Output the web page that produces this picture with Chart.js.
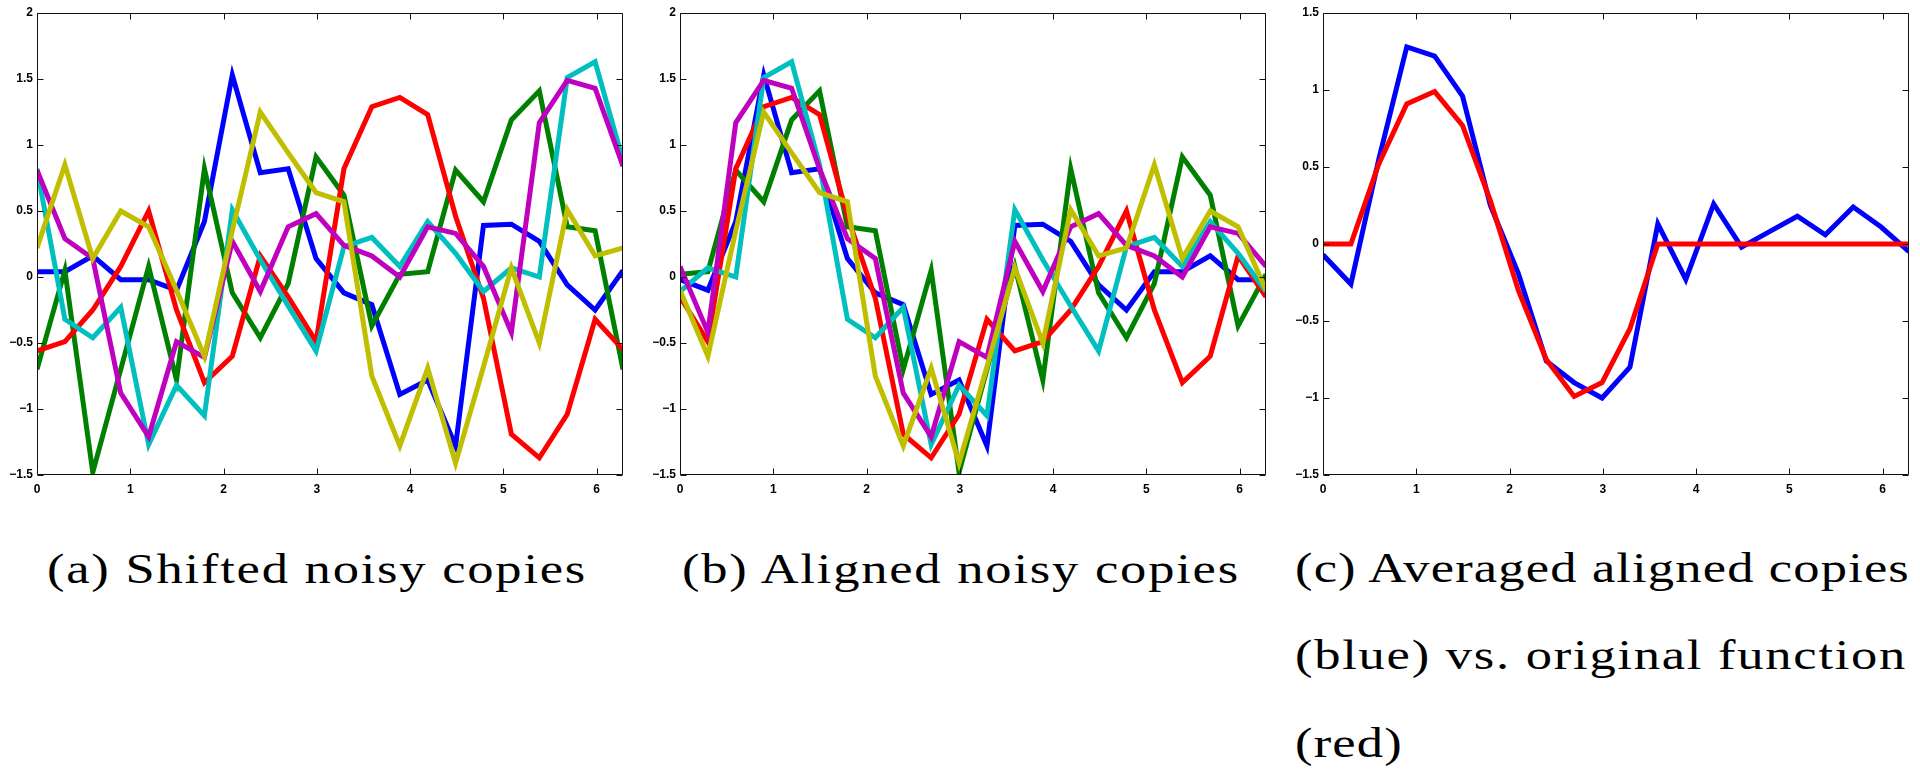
<!DOCTYPE html>
<html>
<head>
<meta charset="utf-8">
<script src="https://cdn.jsdelivr.net/npm/chart.js@4.4.1/dist/chart.umd.min.js"></script>
<style>
  body { margin: 0; background: #fff; width: 1920px; height: 778px; overflow: hidden; position: relative; }
  canvas { position: absolute; top: 0; }
  .cap { position: absolute; font-family: "Liberation Serif", "Times New Roman", serif; font-size: 42px; line-height: 42px;
         white-space: nowrap; color: #000; transform-origin: 0 0; }
</style>
</head>
<body>
<canvas id="chartA" width="628" height="505" style="left:1px"></canvas>
<canvas id="chartB" width="628" height="505" style="left:644px"></canvas>
<canvas id="chartC" width="628" height="505" style="left:1287px"></canvas>
<script>
// sample positions (0 .. 2*pi, 22 samples)
const xs = [0, 0.299, 0.598, 0.898, 1.197, 1.496, 1.795, 2.094, 2.394, 2.693, 2.992,
            3.291, 3.590, 3.890, 4.189, 4.488, 4.787, 5.086, 5.386, 5.685, 5.984, 6.283];
const xMax = 6.283;
const xTicks = [0, 1, 2, 3, 4, 5, 6];
const yTicksAB = [-1.5, -1, -0.5, 0, 0.5, 1, 1.5, 2];
const yTicksC = [-1.5, -1, -0.5, 0, 0.5, 1, 1.5];

// (a) shifted noisy copies
const blueA    = [0.04, 0.04, 0.16, -0.02, -0.02, -0.10, 0.42, 1.53, 0.79, 0.82, 0.14, -0.12, -0.21, -0.89, -0.78, -1.28, 0.39, 0.40, 0.27, -0.06, -0.25, 0.05];
const greenA   = [-0.70, 0.05, -1.48, -0.70, 0.08, -0.78, 0.82, -0.12, -0.46, -0.05, 0.91, 0.62, -0.37, 0.02, 0.04, 0.81, 0.57, 1.19, 1.41, 0.38, 0.35, -0.70];
const redA     = [-0.56, -0.49, -0.25, 0.08, 0.50, -0.25, -0.80, -0.60, 0.16, -0.15, -0.49, 0.82, 1.29, 1.36, 1.23, 0.46, -0.16, -1.19, -1.37, -1.04, -0.32, -0.55];
const cyanA    = [0.82, -0.32, -0.46, -0.23, -1.27, -0.82, -1.05, 0.51, 0.13, -0.22, -0.56, 0.23, 0.30, 0.08, 0.42, 0.18, -0.11, 0.07, 0.00, 1.51, 1.63, 0.88];
const magentaA = [0.81, 0.29, 0.14, -0.88, -1.21, -0.49, -0.61, 0.27, -0.11, 0.38, 0.48, 0.24, 0.16, 0.00, 0.38, 0.33, 0.08, -0.42, 1.17, 1.49, 1.43, 0.84];
const yellowA  = [0.22, 0.85, 0.14, 0.50, 0.38, -0.10, -0.60, 0.35, 1.25, 0.94, 0.64, 0.57, -0.75, -1.28, -0.69, -1.41, -0.68, 0.07, -0.50, 0.51, 0.16, 0.22];

// (b) aligned noisy copies
const blueB    = [-0.02, -0.10, 0.42, 1.53, 0.79, 0.82, 0.14, -0.12, -0.21, -0.89, -0.78, -1.28, 0.39, 0.40, 0.27, -0.06, -0.25, 0.04, 0.04, 0.16, -0.02, -0.02];
const greenB   = [0.02, 0.04, 0.81, 0.57, 1.19, 1.41, 0.38, 0.35, -0.70, 0.05, -1.48, -0.70, 0.08, -0.78, 0.82, -0.12, -0.46, -0.05, 0.91, 0.62, -0.37, 0.02];
const redB     = [-0.15, -0.49, 0.82, 1.29, 1.36, 1.23, 0.46, -0.16, -1.19, -1.37, -1.04, -0.32, -0.56, -0.49, -0.25, 0.08, 0.50, -0.25, -0.80, -0.60, 0.16, -0.15];
const cyanB    = [-0.11, 0.07, 0.00, 1.51, 1.63, 0.85, -0.32, -0.46, -0.23, -1.27, -0.82, -1.05, 0.51, 0.13, -0.22, -0.56, 0.23, 0.30, 0.08, 0.42, 0.18, -0.11];
const magentaB = [0.08, -0.42, 1.17, 1.49, 1.43, 0.82, 0.29, 0.14, -0.88, -1.21, -0.49, -0.61, 0.27, -0.11, 0.38, 0.48, 0.24, 0.16, 0.00, 0.38, 0.33, 0.08];
const yellowB  = [-0.10, -0.60, 0.35, 1.25, 0.94, 0.64, 0.57, -0.75, -1.28, -0.69, -1.41, -0.68, 0.07, -0.50, 0.51, 0.16, 0.22, 0.85, 0.14, 0.50, 0.38, -0.10];

// (c) averaged copies vs original
const blueC = [-0.07, -0.26, 0.55, 1.28, 1.22, 0.96, 0.25, -0.19, -0.76, -0.90, -1.00, -0.80, 0.13, -0.23, 0.26, -0.02, 0.08, 0.18, 0.06, 0.24, 0.11, -0.05];
const redC  = [0, 0, 0.52, 0.91, 0.99, 0.77, 0.28, -0.30, -0.75, -0.99, -0.90, -0.55, 0, 0, 0, 0, 0, 0, 0, 0, 0, 0];

const colors = {
  blue: '#0000ff', green: '#008000', red: '#ff0000',
  cyan: '#00bfbf', magenta: '#bf00bf', yellow: '#bfbf00'
};

const TICK = 6;

// matlab-like box with inward ticks on all four sides
const boxPlugin = {
  id: 'box',
  afterDatasetsDraw(chart) {
    const { ctx, chartArea: a, scales } = chart;
    const l = Math.round(a.left) + 0.5, r = Math.round(a.right) - 0.5;
    const t = Math.round(a.top) + 0.5, b = Math.round(a.bottom) - 0.5;
    ctx.save();
    ctx.strokeStyle = '#111';
    ctx.lineWidth = 1;
    ctx.beginPath();
    scales.x.ticks.forEach(tk => {
      const px = Math.round(scales.x.getPixelForValue(tk.value)) + 0.5;
      ctx.moveTo(px, b); ctx.lineTo(px, b - TICK);
      ctx.moveTo(px, t); ctx.lineTo(px, t + TICK);
    });
    scales.y.ticks.forEach(tk => {
      const py = Math.round(scales.y.getPixelForValue(tk.value)) + 0.5;
      ctx.moveTo(l, py); ctx.lineTo(l + TICK, py);
      ctx.moveTo(r, py); ctx.lineTo(r - TICK, py);
    });
    ctx.rect(l, t, r - l, b - t);
    ctx.stroke();
    ctx.restore();
  }
};

function fmt(v) {
  return v < 0 ? '\u2212' + Math.abs(v) : String(v);
}

function makeChart(id, series, yMin, yMax, yTicks) {
  const datasets = series.map((s, i) => ({
    data: s.values.map((v, k) => ({ x: xs[k], y: v })),
    borderColor: s.color,
    borderWidth: 5,
    pointRadius: 0,
    tension: 0,
    fill: false,
    order: series.length - i
  }));
  const tickFont = { family: '"Liberation Sans", Arial, sans-serif', size: 12, weight: 'bold' };
  return new Chart(document.getElementById(id), {
    type: 'line',
    data: { datasets },
    options: {
      responsive: false,
      animation: false,
      layout: { padding: { top: 13, right: 6, left: 0, bottom: 0 } },
      plugins: { legend: { display: false }, tooltip: { enabled: false } },
      scales: {
        x: {
          type: 'linear', min: 0, max: xMax,
          grid: { display: false, drawTicks: false },
          border: { display: false },
          afterBuildTicks: s => { s.ticks = xTicks.map(v => ({ value: v })); },
          afterFit: s => { s.height = 30; },
          ticks: { color: '#000', font: tickFont, padding: 7, maxRotation: 0, callback: fmt }
        },
        y: {
          type: 'linear', min: yMin, max: yMax,
          grid: { display: false, drawTicks: false },
          border: { display: false },
          afterBuildTicks: s => { s.ticks = yTicks.map(v => ({ value: v })); },
          afterFit: s => { s.width = 36; },
          ticks: { color: '#000', font: tickFont, padding: 4, callback: fmt }
        }
      }
    },
    plugins: [boxPlugin]
  });
}

makeChart('chartA', [
  { values: blueA, color: colors.blue },
  { values: greenA, color: colors.green },
  { values: redA, color: colors.red },
  { values: cyanA, color: colors.cyan },
  { values: magentaA, color: colors.magenta },
  { values: yellowA, color: colors.yellow }
], -1.5, 2, yTicksAB);

makeChart('chartB', [
  { values: blueB, color: colors.blue },
  { values: greenB, color: colors.green },
  { values: redB, color: colors.red },
  { values: cyanB, color: colors.cyan },
  { values: magentaB, color: colors.magenta },
  { values: yellowB, color: colors.yellow }
], -1.5, 2, yTicksAB);

makeChart('chartC', [
  { values: blueC, color: colors.blue },
  { values: redC, color: colors.red }
], -1.5, 1.5, yTicksC);

// captions: the reference face (Computer Modern) is wider than Times,
// so widen a bit with scaleX and spread the rest with letter-spacing
const STRETCH = 1.25;
function caption(text, left, right, baseline) {
  const el = document.createElement('div');
  el.className = 'cap';
  el.textContent = text;
  document.body.appendChild(el);
  const w = el.getBoundingClientRect().width;
  const ls = ((right - left) / STRETCH - w) / text.length;
  el.style.letterSpacing = ls.toFixed(2) + 'px';
  el.style.left = left + 'px';
  el.style.top = (baseline - 35.2) + 'px';
  el.style.transform = 'scaleX(' + STRETCH + ')';
}
caption('(a) Shifted noisy copies', 47, 587, 583);
caption('(b) Aligned noisy copies', 682, 1240, 583);
caption('(c) Averaged aligned copies', 1295, 1910, 582);
caption('(blue) vs. original function', 1295, 1907, 669);
caption('(red)', 1295, 1403, 757);
</script>
</body>
</html>
